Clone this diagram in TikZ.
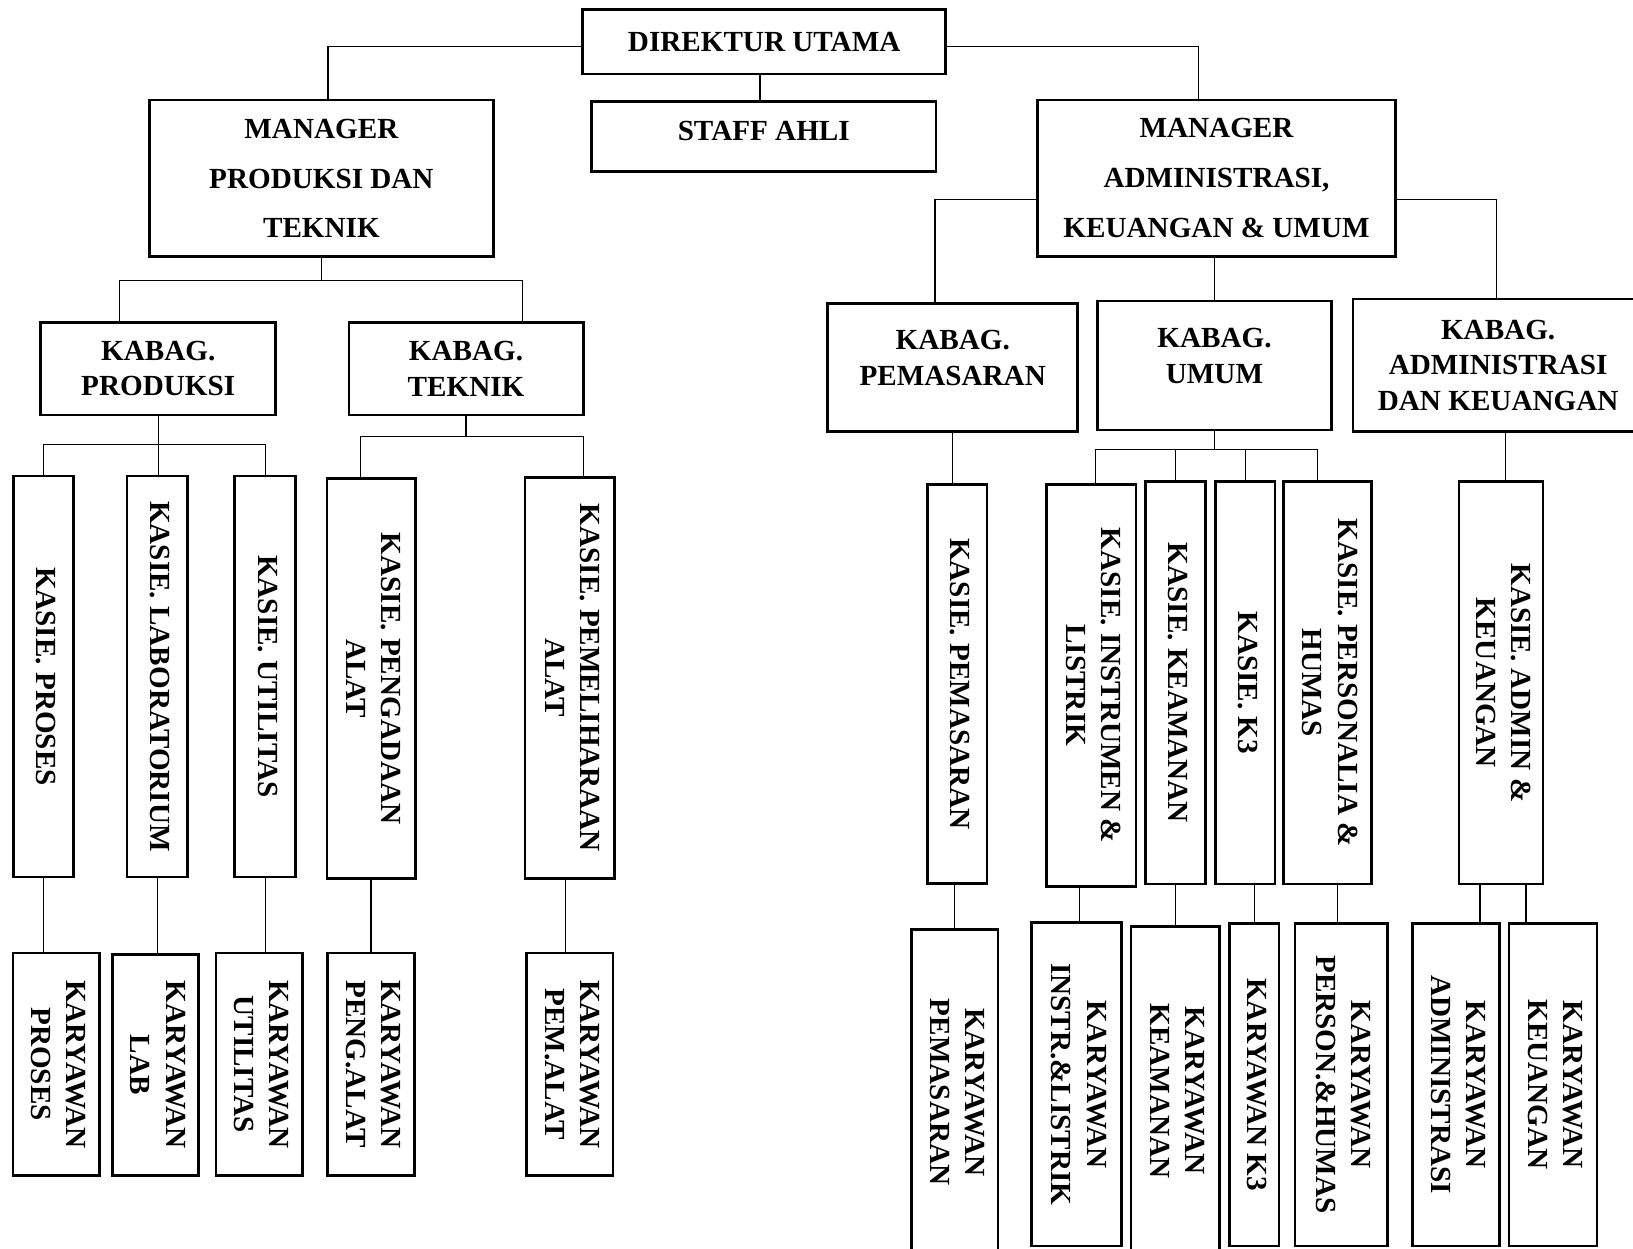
\documentclass[tikz,border=0pt]{standalone}
\usepackage{fontspec}
\setmainfont{Liberation Serif}
\usepackage{graphicx}
\usepackage{tikz}

% text turned to run from top to bottom
\newcommand{\vtext}[1]{\rotatebox{-90}{\begin{tabular}{@{}c@{}}#1\end{tabular}}}

\tikzset{
  box/.style={draw, line width=2.6pt, inner sep=0pt, outer sep=0pt, align=center},
  link/.style={line width=1.2pt},
}

\begin{document}
\begin{tikzpicture}[x=1pt,y=-1pt,font=\fontsize{28}{34}\selectfont\bfseries]
  \useasboundingbox (0,0) rectangle (1568,1199);

  % top
  \node[box, minimum width=348.5, minimum height=62] (dirut) at (733.75,40) {DIREKTUR UTAMA};
  \node[box, minimum width=330.7, minimum height=67.3, label={[yshift=5pt]center:STAFF AHLI}] (staff) at (733.35,131.25) {};
  \node[box, minimum width=330, minimum height=150.5] (mgrprod) at (308.6,171.25) {MANAGER\\[14pt]PRODUKSI DAN\\[14pt]TEKNIK};
  \node[box, minimum width=343.4, minimum height=150.5] (mgradm) at (1168.1,171.25) {MANAGER\\[14pt]ADMINISTRASI,\\[14pt]KEUANGAN \& UMUM};

  % kabag
  \node[box, minimum width=225.4, minimum height=89] (kbprod) at (151.9,354) {KABAG.\\PRODUKSI};
  \node[box, minimum width=225, minimum height=89] (kbtek) at (447.5,354) {KABAG.\\TEKNIK};
  \node[box, minimum width=240, minimum height=122.8, label={[align=center,yshift=9pt]center:{KABAG.\\PEMASARAN}}] (kbpem) at (914.75,352.6) {};
  \node[box, minimum width=225, minimum height=124, label={[align=center,yshift=9pt]center:{KABAG.\\UMUM}}] (kbumum) at (1166.1,351) {};
  \node[box, minimum width=279, minimum height=127.5] (kbadm) at (1438.5,350.75) {KABAG.\\ADMINISTRASI\\DAN KEUANGAN};

  % kasie
  \node[box, minimum width=57.3, minimum height=385] (ksproses) at (41.65,649.5) {\vtext{KASIE. PROSES}};
  \node[box, minimum width=57.8, minimum height=385] (kslab) at (150.9,649.5) {\vtext{KASIE. LABORATORIUM}};
  \node[box, minimum width=58.2, minimum height=385] (ksutil) at (254.6,649.5) {\vtext{KASIE. UTILITAS}};
  \node[box, minimum width=84.8, minimum height=384.2] (kspeng) at (356.3,651.6) {\vtext{KASIE. PENGADAAN\\ALAT}};
  \node[box, minimum width=85.8, minimum height=384.6] (kspem) at (547.1,650.9) {\vtext{KASIE. PEMELIHARAAN\\ALAT}};
  \node[box, minimum width=57.3, minimum height=383.4] (kspemasar) at (919.05,656.8) {\vtext{KASIE. PEMASARAN}};
  \node[box, minimum width=86.1, minimum height=386] (ksinstr) at (1047.85,658) {\vtext{KASIE. INSTRUMEN \&\\LISTRIK}};
  \node[box, minimum width=57.8, minimum height=386.2] (kskeam) at (1128.8,655.7) {\vtext{KASIE. KEAMANAN}};
  \node[box, minimum width=57.2, minimum height=386.2] (ksk3) at (1195.6,655.7) {\vtext{KASIE. K3}};
  \node[box, minimum width=84.7, minimum height=386.2] (ksperson) at (1274.65,655.7) {\vtext{KASIE. PERSONALIA \&\\HUMAS}};
  \node[box, minimum width=80.7, minimum height=386.2] (ksadm) at (1441.35,655.7) {\vtext{KASIE. ADMIN \&\\KEUANGAN}};

  % karyawan
  \node[box, minimum width=82.9, minimum height=213.5] (kwproses) at (53.95,1021.75) {\vtext{KARYAWAN\\PROSES}};
  \node[box, minimum width=82.8, minimum height=212] (kwlab) at (149.4,1022.5) {\vtext{KARYAWAN\\LAB}};
  \node[box, minimum width=82.9, minimum height=213.5] (kwutil) at (248.85,1021.75) {\vtext{KARYAWAN\\UTILITAS}};
  \node[box, minimum width=83.3, minimum height=213.5] (kwpeng) at (356.05,1021.75) {\vtext{KARYAWAN\\PENG.ALAT}};
  \node[box, minimum width=82.9, minimum height=213.5] (kwpem) at (547.15,1021.75) {\vtext{KARYAWAN\\PEM.ALAT}};
  \node[box, minimum width=82.8, minimum height=312.7] (kwpemasar) at (916.8,1048.65) {\vtext{KARYAWAN\\PEMASARAN}};
  \node[box, minimum width=86.8, minimum height=310.3] (kwinstr) at (1033.6,1041.15) {\vtext{KARYAWAN\\INSTR.\&LISTRIK}};
  \node[box, minimum width=84.9, minimum height=315.2] (kwkeam) at (1128.55,1047.4) {\vtext{KARYAWAN\\KEAMANAN}};
  \node[box, minimum width=47.3, minimum height=309.8] (kwk3) at (1204.35,1041.4) {\vtext{KARYAWAN K3}};
  \node[box, minimum width=88.6, minimum height=309.8] (kwperson) at (1287.7,1041.4) {\vtext{KARYAWAN\\PERSON.\&HUMAS}};
  \node[box, minimum width=84, minimum height=309.8] (kwadmin) at (1398,1041.4) {\vtext{KARYAWAN\\ADMINISTRASI}};
  \node[box, minimum width=84.4, minimum height=309.8] (kwkeu) at (1491.2,1041.4) {\vtext{KARYAWAN\\KEUANGAN}};

  % branch points
  \coordinate (bprodL) at (115,269.2);
  \coordinate (bprodR) at (502,269.2);
  \coordinate (hprod) at (0,426.9);
  \coordinate (htekL) at (346.5,419);
  \coordinate (htekR) at (560,419);
  \coordinate (humL) at (1051.6,431.8);
  \coordinate (humR) at (1265.2,431.8);

  % lines
  \draw[link] ([yshift=-4.8pt]dirut.west) -| ([xshift=6.4pt]mgrprod.north);
  \draw[link] ([yshift=-4.8pt]dirut.east) -| ([xshift=-17.4pt]mgradm.north);
  \draw[link] ([xshift=-4pt]dirut.south) -- ([xshift=-4pt]dirut.south |- staff.north);

  \draw[link] (mgrprod.south) -- (mgrprod.south |- bprodL);
  \draw[link] (bprodL |- kbprod.north) -- (bprodL) -- (bprodR) -- (bprodR |- kbtek.north);
  \draw[link] ([yshift=-20.2pt]mgradm.west) -| ([xshift=-17pt]kbpem.north);
  \draw[link] ([yshift=-20.2pt]mgradm.east) -| ([xshift=-1.6pt]kbadm.north);
  \draw[link] (kbumum.north |- mgradm.south) -- (kbumum.north);

  \draw[link] (kbprod.south) -- (kbprod.south |- kslab.north);
  \draw[link] (ksproses.north) |- (ksutil.north |- hprod) -- (ksutil.north);
  \draw[link] (kbtek.south) -- (kbtek.south |- htekL);
  \draw[link] (htekL |- kspeng.north) -- (htekL) -- (htekR) -- (htekR |- kspem.north);

  \draw[link] (kbpem.south) -- (kbpem.south |- kspemasar.north);
  \draw[link] (kbumum.south) -- (kbumum.south |- humL);
  \draw[link] (humL |- ksinstr.north) -- (humL) -- (humR) -- (humR |- ksperson.north);
  \draw[link] (kskeam.north |- humL) -- (kskeam.north);
  \draw[link] (ksk3.north |- humL) -- (ksk3.north);
  \draw[link] ([xshift=4.5pt]ksadm.north |- kbadm.south) -- ([xshift=4.5pt]ksadm.north);

  \draw[link] (ksproses.south) -- (ksproses.south |- kwproses.north);
  \draw[link] (kslab.south) -- (kslab.south |- kwlab.north);
  \draw[link] (ksutil.south) -- (ksutil.south |- kwutil.north);
  \draw[link] (kspeng.south) -- (kspeng.south |- kwpeng.north);
  \draw[link] ([xshift=-4pt]kspem.south) -- ([xshift=-4pt]kspem.south |- kwpem.north);

  \draw[link] (kwpemasar.north |- kspemasar.south) -- (kwpemasar.north);
  \draw[link] ([xshift=2.7pt]kwinstr.north |- ksinstr.south) -- ([xshift=2.7pt]kwinstr.north);
  \draw[link] (kskeam.south) -- (kskeam.south |- kwkeam.north);
  \draw[link] (kwk3.north |- ksk3.south) -- (kwk3.north);
  \draw[link] ([xshift=-3.3pt]kwperson.north |- ksperson.south) -- ([xshift=-3.3pt]kwperson.north);
  \draw[link] ([xshift=-20.35pt]ksadm.south) -- ([xshift=-20.35pt]ksadm.south |- kwadmin.north);
  \draw[link] ([xshift=23.95pt]ksadm.south) -- ([xshift=23.95pt]ksadm.south |- kwkeu.north);
\end{tikzpicture}
\end{document}
